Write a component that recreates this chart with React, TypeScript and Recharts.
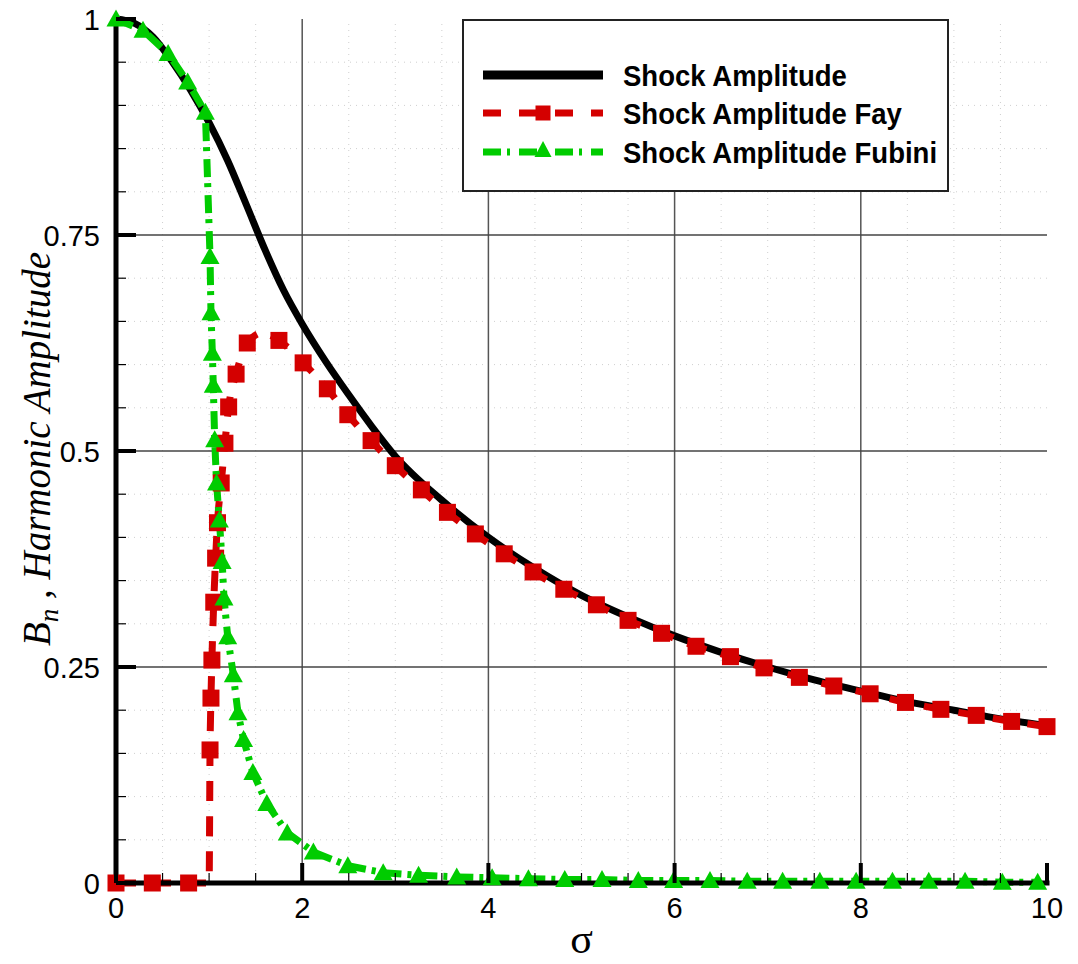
import React from 'react';
import { LineChart, Line, XAxis, YAxis, ReferenceLine, Legend } from 'recharts';

// values (sigma, amplitude)
const exactSigma = [0, 0.2, 0.4, 0.6, 0.8, 1.0, 1.2, 1.4, 1.6, 1.8, 2.0, 2.25, 2.5, 2.75, 3.0, 3.5, 4.0, 4.5, 5.0, 5.5, 6.0, 6.5, 7.0, 7.5, 8.0, 8.5, 9.0, 9.5, 10];
const exactAmp = [1.0, 0.995, 0.979, 0.951, 0.918, 0.88, 0.836, 0.785, 0.733, 0.686, 0.647, 0.604, 0.565, 0.528, 0.494, 0.443, 0.4, 0.364, 0.333, 0.308, 0.286, 0.267, 0.25, 0.235, 0.222, 0.21, 0.2, 0.19, 0.182];

const faySigma = [0, 0.39, 0.78, 1.0, 1.01, 1.02, 1.03, 1.05, 1.07, 1.09, 1.13, 1.17, 1.21, 1.29, 1.41, 1.58, 1.75, 2.01, 2.27, 2.49, 2.74, 3.0, 3.28, 3.56, 3.86, 4.17, 4.48, 4.81, 5.16, 5.5, 5.86, 6.23, 6.6, 6.96, 7.34, 7.71, 8.1, 8.48, 8.86, 9.24, 9.62, 10];
const fayAmp = [0, 0, 0, 0, 0.154, 0.214, 0.258, 0.325, 0.376, 0.417, 0.463, 0.509, 0.551, 0.589, 0.625, 0.637, 0.628, 0.602, 0.572, 0.542, 0.512, 0.483, 0.455, 0.429, 0.404, 0.381, 0.36, 0.34, 0.322, 0.304, 0.289, 0.274, 0.262, 0.249, 0.238, 0.228, 0.219, 0.209, 0.201, 0.194, 0.187, 0.181];
const fayNoSymbol = [3, 15]; // points on the curve that carry no square

const fubiniSigma = [0, 0.29, 0.56, 0.77, 0.96, 1.01, 1.02, 1.035, 1.045, 1.06, 1.08, 1.11, 1.14, 1.16, 1.2, 1.26, 1.31, 1.37, 1.47, 1.62, 1.84, 2.12, 2.49, 2.87, 3.25, 3.66, 4.04, 4.43, 4.82, 5.22, 5.61, 5.99, 6.38, 6.78, 7.16, 7.56, 7.95, 8.34, 8.73, 9.12, 9.52, 9.9];
const fubiniAmp = [1.0, 0.987, 0.96, 0.927, 0.892, 0.725, 0.66, 0.613, 0.576, 0.513, 0.463, 0.42, 0.372, 0.33, 0.285, 0.241, 0.197, 0.166, 0.128, 0.092, 0.058, 0.036, 0.02, 0.012, 0.009, 0.007, 0.006, 0.005, 0.004, 0.004, 0.003, 0.003, 0.003, 0.002, 0.002, 0.002, 0.002, 0.002, 0.002, 0.002, 0.001, 0.001];

const xTicks = [0, 0.5, 1, 1.5, 2, 2.5, 3, 3.5, 4, 4.5, 5, 5.5, 6, 6.5, 7, 7.5, 8, 8.5, 9, 9.5, 10];
const xLabels = [0, 2, 4, 6, 8, 10];
const yTicks = [0, 0.05, 0.1, 0.15, 0.2, 0.25, 0.3, 0.35, 0.4, 0.45, 0.5, 0.55, 0.6, 0.65, 0.7, 0.75, 0.8, 0.85, 0.9, 0.95, 1];
const yLabels = [0, 0.25, 0.5, 0.75, 1];
const xMajorGrid = [2, 4, 6, 8];
const yMajorGrid = [0.25, 0.5, 0.75];
const xMinorGrid = xTicks.filter(v => v > 0 && v < 10 && !xMajorGrid.includes(v));
const yMinorGrid = yTicks.filter(v => v > 0 && v < 1 && !yMajorGrid.includes(v));

const series = [
  { name: 'Shock Amplitude', color: '#000000', dash: undefined, width: 7, symbol: 'none' },
  { name: 'Shock Amplitude Fay', color: '#d40000', dash: '20 15', width: 7, symbol: 'square' },
  { name: 'Shock Amplitude Fubini', color: '#00cc00', dash: '18 6 4 8', width: 7, symbol: 'triangle' },
];

const exactData = exactSigma.map((s, i) => ({ s, v: exactAmp[i] }));
const fayData = faySigma.map((s, i) => ({ s, v: fayAmp[i] }));
const fubiniData = fubiniSigma.map((s, i) => ({ s, v: fubiniAmp[i] }));

const SANS = '"Liberation Sans", Arial, Helvetica, sans-serif';
const SERIF = '"Liberation Serif", "Times New Roman", serif';

const Square = ({ x, y, size, color }: any) => (
  <rect x={x - size / 2} y={y - size / 2} width={size} height={size} fill={color} />
);
const Triangle = ({ x, y, w, h, color }: any) => (
  <polygon points={`${x},${y - h / 2 - 2} ${x - w / 2},${y + h / 2} ${x + w / 2},${y + h / 2}`} fill={color} />
);

const fayDot = (p: any) => {
  if (fayNoSymbol.includes(p.index) || p.cx == null) return <g key={`f${p.index}`} />;
  return <g key={`f${p.index}`}><Square x={p.cx} y={p.cy} size={17} color="#d40000" /></g>;
};
const fubiniDot = (p: any) => {
  if (p.cx == null) return <g key={`g${p.index}`} />;
  return <g key={`g${p.index}`}><Triangle x={p.cx} y={p.cy} w={19} h={15} color="#00cc00" /></g>;
};

const near = (v: number, list: number[]) => list.some(t => Math.abs(t - v) < 1e-6);

const XTick = ({ x, y, payload }: any) => {
  const major = near(payload.value, xLabels);
  return (
    <g>
      <line x1={x} x2={x} y1={y} y2={y - (major ? 20 : 10)} stroke="#000" strokeWidth={major ? 4 : 1.2} />
      {major && (
        <text x={x} y={y + 35} textAnchor="middle" fontSize={29} fontFamily={SANS} fill="#000">{payload.value}</text>
      )}
    </g>
  );
};

const YTick = ({ x, y, payload }: any) => {
  const major = near(payload.value, yLabels);
  return (
    <g>
      <line x1={x} x2={x + (major ? 20 : 10)} y1={y} y2={y} stroke="#000" strokeWidth={major ? 4 : 1.2} />
      {major && (
        <text x={x - 16} y={y + 11} textAnchor="end" fontSize={29} fontFamily={SANS} fill="#000">{payload.value}</text>
      )}
    </g>
  );
};

const YTitle = ({ viewBox }: any) => {
  const x = 50;
  const cy = viewBox.y + viewBox.height / 2 - 2;
  return (
    <text transform={`rotate(-90 ${x} ${cy})`} x={x} y={cy} textAnchor="middle" fontFamily={SERIF} fontStyle="italic" fontSize={39} fill="#000">
      <tspan>B</tspan>
      <tspan dy={8} fontSize={27}>n</tspan>
      <tspan dy={-8}> , Harmonic Amplitude</tspan>
    </text>
  );
};

const XTitle = ({ viewBox }: any) => (
  <text x={viewBox.x + viewBox.width / 2} y={953} textAnchor="middle" fontFamily={SERIF} fontSize={42} fill="#000">σ</text>
);

const LegendBox = () => {
  const rows = [56, 94, 133];
  return (
    <svg width={487} height={173} style={{ display: 'block' }}>
      <rect x={1} y={1} width={485} height={171} fill="#fff" stroke="#222" strokeWidth={2} />
      {series.map((s, i) => (
        <g key={s.name}>
          <line x1={21} x2={141} y1={rows[i]} y2={rows[i]} stroke={s.color} strokeWidth={i === 0 ? 9 : 7} strokeDasharray={i === 1 ? '18 18' : i === 2 ? '18 6 3 9' : undefined} />
          {s.symbol === 'square' && <Square x={81} y={rows[i]} size={15} color={s.color} />}
          {s.symbol === 'triangle' && <Triangle x={81} y={rows[i] - 2} w={17} h={14} color={s.color} />}
          <g transform={`translate(161 ${rows[i] + 11}) scale(0.95 1)`}>
            <text x={0} y={0} fontFamily={SANS} fontWeight="bold" fontSize={29} fill="#000">{s.name}</text>
          </g>
        </g>
      ))}
    </svg>
  );
};

const frame = { stroke: '#000', strokeWidth: 5, strokeLinecap: 'square' as const };

export default function App() {
  return (
    <div style={{ width: 1078, height: 964, background: '#fff' }}>
      <style>{'body{margin:0}'}</style>
      <LineChart width={1078} height={964} margin={{ top: 19, right: 31, bottom: 21, left: 10 }}>
        {xMinorGrid.map(v => <ReferenceLine key={`xm${v}`} x={v} stroke="#cfcfcf" strokeDasharray="1 5" />)}
        {yMinorGrid.map(v => <ReferenceLine key={`ym${v}`} y={v} stroke="#cfcfcf" strokeDasharray="1 5" />)}
        {xMajorGrid.map(v => <ReferenceLine key={`xM${v}`} x={v} stroke="#555" strokeWidth={1.5} />)}
        {yMajorGrid.map(v => <ReferenceLine key={`yM${v}`} y={v} stroke="#444" strokeWidth={1.5} />)}
        <Line data={exactData} dataKey="v" name={series[0].name} type="monotone" stroke={series[0].color} strokeWidth={series[0].width} dot={false} isAnimationActive={false} />
        <Line data={fayData} dataKey="v" name={series[1].name} type="monotone" stroke={series[1].color} strokeWidth={series[1].width} strokeDasharray={series[1].dash} dot={fayDot} isAnimationActive={false} />
        <Line data={fubiniData} dataKey="v" name={series[2].name} type="linear" stroke={series[2].color} strokeWidth={series[2].width} strokeDasharray={series[2].dash} dot={fubiniDot} isAnimationActive={false} />
        <XAxis dataKey="s" type="number" domain={[0, 10]} ticks={xTicks} tick={<XTick />} tickSize={0} tickMargin={0} tickLine={false} axisLine={frame} height={60} allowDuplicatedCategory={false} label={{ content: <XTitle /> }} />
        <YAxis type="number" domain={[0, 1]} ticks={yTicks} tick={<YTick />} tickSize={0} tickMargin={0} tickLine={false} axisLine={frame} width={106} label={{ content: <YTitle /> }} />
        <XAxis xAxisId="top" orientation="top" type="number" domain={[0, 10]} tick={false} tickLine={false} axisLine={frame} height={0} />
        <YAxis yAxisId="right" orientation="right" type="number" domain={[0, 1]} tick={false} tickLine={false} axisLine={frame} width={0} />
        <Legend layout="horizontal" verticalAlign="middle" align="center" content={<LegendBox />} wrapperStyle={{ left: 462, top: 19, width: 487, height: 173 }} />
      </LineChart>
    </div>
  );
}
